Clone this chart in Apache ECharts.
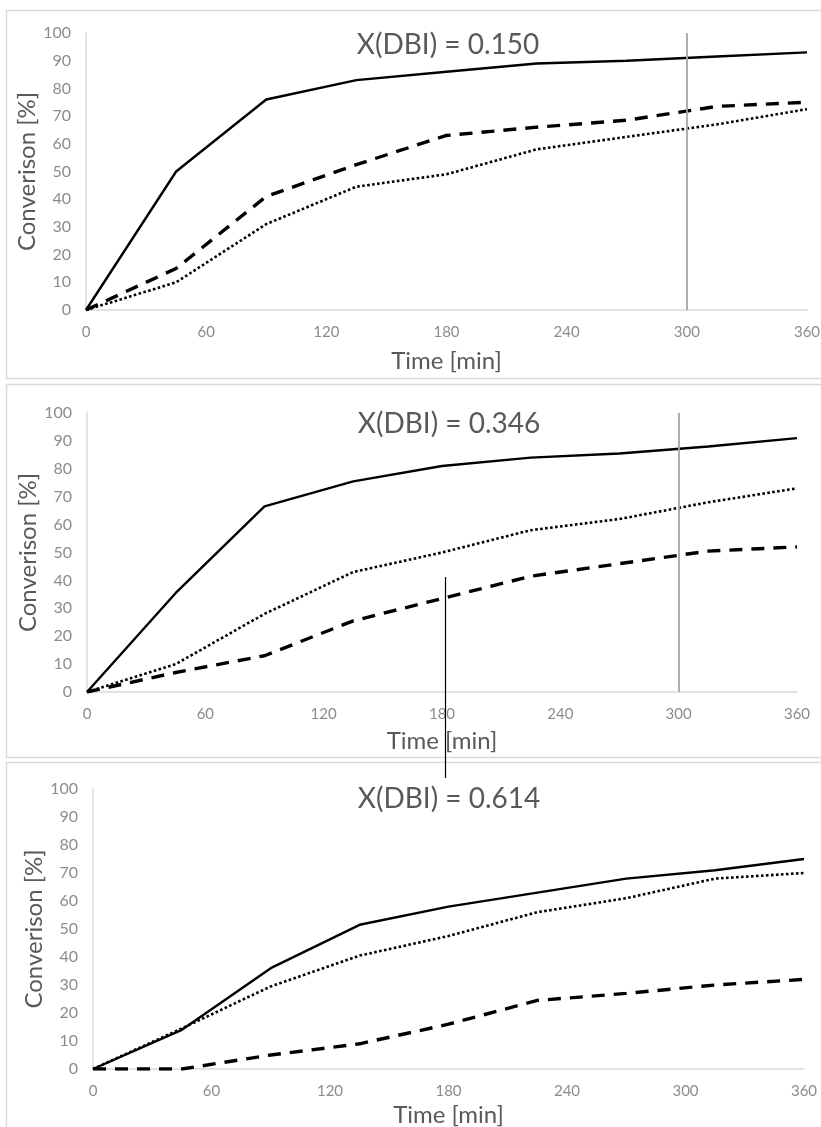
<!DOCTYPE html>
<html>
<head>
<meta charset="utf-8">
<script src="https://cdn.jsdelivr.net/npm/echarts@6/dist/echarts.min.js"></script>
<style>
html,body{margin:0;padding:0;background:#fff;}
#c{width:821px;height:1127px;}
</style>
</head>
<body>
<div id="c"></div>
<script>
// ---- data ----
const times = [0, 45, 90, 135, 180, 225, 270, 315, 360];
const xTicks = [0, 60, 120, 180, 240, 300, 360];
const yTicks = [0, 10, 20, 30, 40, 50, 60, 70, 80, 90, 100];
const panelTitles = ['X(DBI) = 0.150', 'X(DBI) = 0.346', 'X(DBI) = 0.614'];
const refLineX = [300, 300, null];

const p1Solid  = [0, 50, 76, 83, 86, 89, 90, 91.5, 93];
const p1Dashed = [0, 15, 41, 52.5, 63, 66, 68.5, 73.5, 75];
const p1Dotted = [0, 10, 31, 44.5, 49, 58, 62.5, 67, 72.5];

const p2Solid  = [0, 35.5, 66.5, 75.5, 81, 84, 85.5, 88, 91];
const p2Dashed = [0, 7, 13, 25.5, 33.5, 41.5, 46, 50.5, 52];
const p2Dotted = [0, 10, 28, 43, 50, 58, 62, 68, 73];

const p3Solid  = [0, 14, 36, 51.5, 58, 63, 68, 71, 75];
const p3Dashed = [0, 0, 5, 9, 16, 24.5, 27, 30, 32];
const p3Dotted = [0, 14.5, 29.5, 40.5, 47.5, 56, 61, 68, 70];

const panels = [
  {solid: p1Solid, dashed: p1Dashed, dotted: p1Dotted},
  {solid: p2Solid, dashed: p2Dashed, dotted: p2Dotted},
  {solid: p3Solid, dashed: p3Dashed, dotted: p3Dotted}
];

// ---- layout ----
const FONT = 'Lato, "Open Sans", sans-serif';
const grids = [
  {left: 86, top: 33, width: 721, height: 277},
  {left: 87, top: 413, width: 710, height: 279},
  {left: 93, top: 789, width: 711, height: 280}
];
const xNameGaps = [39, 37, 34];
const titlePos = [{x: 443, y: 43}, {x: 444, y: 422}, {x: 444, y: 797}];
const boxes = [
  {y: 10, h: 368}, {y: 384, h: 373}, {y: 762, h: 380}
];

const pair = arr => arr.map((v, i) => [times[i], v]);

const option = {
  animation: false,
  backgroundColor: '#fff',
  title: panelTitles.map((t, i) => ({
    text: t, left: titlePos[i].x, top: titlePos[i].y - 17, textAlign: 'center',
    textStyle: {fontFamily: FONT, fontSize: 28, fontWeight: 400, color: '#595959'}
  })),
  grid: grids.map(g => Object.assign({outerBoundsMode: 'none', containLabel: false}, g)),
  xAxis: grids.map((g, i) => ({
    type: 'value', gridIndex: i, min: 0, max: 360, interval: 60,
    name: 'Time [min]', nameLocation: 'middle', nameGap: xNameGaps[i], nameMoveOverlap: false,
    nameTextStyle: {fontFamily: FONT, fontSize: 24, color: '#595959'},
    axisLine: {show: true, onZero: false, lineStyle: {color: '#d9d9d9', width: 1.5}},
    axisTick: {show: false},
    splitLine: {show: false},
    axisLabel: {fontFamily: FONT, fontSize: 15, color: '#8c8c8c', margin: 15,
      formatter: v => xTicks.includes(v) ? String(v) : ''}
  })),
  yAxis: grids.map((g, i) => ({
    type: 'value', gridIndex: i, min: 0, max: 100, interval: 10,
    name: 'Converison [%]', nameLocation: 'middle', nameGap: 47, nameMoveOverlap: false,
    nameTextStyle: {fontFamily: FONT, fontSize: 24, color: '#595959'},
    axisLine: {show: true, lineStyle: {color: '#d9d9d9', width: 1.5}},
    axisTick: {show: false},
    splitLine: {show: false},
    axisLabel: {fontFamily: FONT, fontSize: 16, color: '#8c8c8c', margin: 15,
      formatter: v => yTicks.includes(v) ? String(v) : ''}
  })),
  graphic: [
    ...boxes.map(b => ({
      type: 'rect', silent: true, z: -1,
      shape: {x: 6.5, y: b.y + 0.5, width: 830, height: b.h},
      style: {fill: 'none', stroke: '#d9d9d9', lineWidth: 1.5}
    })),
    {type: 'line', silent: true, z: 100,
     shape: {x1: 445.5, y1: 577, x2: 445.5, y2: 778},
     style: {stroke: '#000', lineWidth: 1.2}}
  ],
  series: []
};

panels.forEach((p, i) => {
  option.series.push({
    type: 'line', xAxisIndex: i, yAxisIndex: i, data: pair(p.solid),
    symbol: 'none', lineStyle: {color: '#000', width: 2.4},
    markLine: refLineX[i] == null ? undefined : {
      silent: true, symbol: 'none', label: {show: false},
      lineStyle: {color: '#a6a6a6', width: 1.8, type: 'solid'},
      data: [{xAxis: refLineX[i]}]
    }
  });
  option.series.push({
    type: 'line', xAxisIndex: i, yAxisIndex: i, data: pair(p.dashed),
    symbol: 'none', lineStyle: {color: '#000', width: 3.4, type: [13, 9], cap: 'butt'}
  });
  option.series.push({
    type: 'line', xAxisIndex: i, yAxisIndex: i, data: pair(p.dotted),
    symbol: 'none', lineStyle: {color: '#000', width: 2.6, type: [2.6, 2.4], cap: 'butt'}
  });
});

const chart = echarts.init(document.getElementById('c'), null, {renderer: 'canvas'});
chart.setOption(option);
</script>
</body>
</html>
